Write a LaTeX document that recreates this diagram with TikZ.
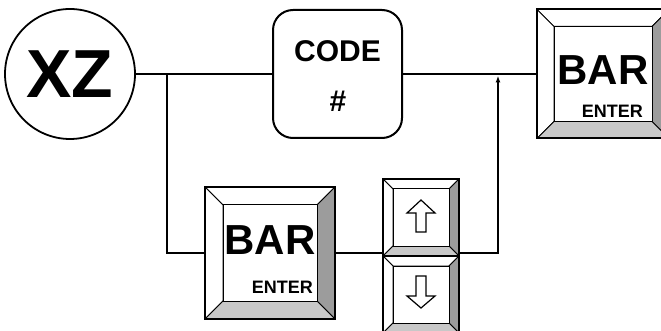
\documentclass[tikz,border=0pt]{standalone}
\usepackage{fontspec}
\setmainfont{Liberation Sans}
\usetikzlibrary{arrows.meta,calc}
\definecolor{keyside}{HTML}{9C9C9C}
\definecolor{keyfoot}{HTML}{C8C8C8}

% bevelled key face drawn over an empty key node
\newcommand{\keybevel}[2]{%
  \coordinate (#1-a) at ($(#1.north west)+(#2,#2)$);
  \coordinate (#1-b) at ($(#1.north east)+(-#2,#2)$);
  \coordinate (#1-c) at ($(#1.south east)+(-#2,-#2)$);
  \coordinate (#1-d) at ($(#1.south west)+(#2,-#2)$);
  \draw[bevel, fill=white] (#1.north west) -- (#1.north east) -- (#1-b) -- (#1-a) -- cycle;
  \draw[bevel, fill=white] (#1.north west) -- (#1-a) -- (#1-d) -- (#1.south west) -- cycle;
  \draw[bevel, fill=keyside] (#1.north east) -- (#1.south east) -- (#1-c) -- (#1-b) -- cycle;
  \draw[bevel, fill=keyfoot] (#1.south west) -- (#1-d) -- (#1-c) -- (#1.south east) -- cycle;
  \draw[bevel, fill=white] (#1-a) -- (#1-b) -- (#1-c) -- (#1-d) -- cycle;
  \draw[keyrim] (#1.north west) rectangle (#1.south east);
}
\newcommand{\upglyph}[1]{%
  \draw[glyph] ($(#1.center)+(0,-17.5)$) -- ++(14,13) -- ++(-9,0) -- ++(0,19) -- ++(-10,0) -- ++(0,-19) -- ++(-9,0) -- cycle;}
\newcommand{\downglyph}[1]{%
  \draw[glyph] ($(#1.center)+(0,13.5)$) -- ++(14,-12) -- ++(-9,0) -- ++(0,-20) -- ++(-10,0) -- ++(0,20) -- ++(-9,0) -- cycle;}

\begin{document}
\begin{tikzpicture}[x=1pt, y=-1pt,
  wire/.style={line width=2pt},
  arr/.style={wire, -{Latex[length=7pt,width=5pt]}, shorten >=1.5pt},
  bevel/.style={line width=1pt, line join=round},
  keyrim/.style={line width=2pt},
  glyph/.style={line width=1.2pt, fill=white, line join=miter},
  keynode/.style={inner sep=0pt, outer sep=0pt, fill=white},
  lbl/.style={font=\bfseries, inner sep=0pt}
]
  \useasboundingbox (0,0) rectangle (661,331);

  \node[draw, circle, line width=1.8pt, minimum size=130pt, inner sep=0pt] (xz) at (70,74) {};
  \node[lbl, font=\bfseries\fontsize{68}{68}\selectfont] (xzt) at (70,74) {XZ};
  \node[draw, rounded corners=20pt, line width=2pt, minimum width=129pt, minimum height=128pt, inner sep=0pt] (code) at (337.5,74) {};
  \node[lbl, font=\bfseries\fontsize{30}{30}\selectfont] (codet) at (337.5,51) {CODE};
  \node[lbl, font=\bfseries\fontsize{30}{30}\selectfont] (hash) at (338,101) {\#};

  \node[keynode, minimum width=132pt, minimum height=129pt] (bartop) at (603,74) {};
  \node[keynode, minimum width=130pt, minimum height=132pt] (barlow) at (270,253) {};
  \node[keynode, minimum width=76pt, minimum height=77pt] (up) at (421,217.5) {};
  \node[keynode, minimum width=76pt, minimum height=77pt] (down) at (421,294.5) {};

  \coordinate (split) at (167,74);
  \coordinate (merge) at (498,74);

  \draw[wire] (xz.east) -- (code.west);
  \draw[wire] (code.east) -- (bartop.west);
  \draw[wire] (split) |- (barlow.west);
  \draw[wire] (barlow.east) -- (barlow.east -| up.west);
  \draw[arr] (barlow.east -| up.east) -| (merge);

  \keybevel{bartop}{17}
  \keybevel{barlow}{18}
  \keybevel{up}{10}
  \keybevel{down}{10}
  \upglyph{up}
  \downglyph{down}

  \node[lbl, font=\bfseries\fontsize{42}{42}\selectfont] (bartopt) at ($(bartop.center)+(0,-4)$) {BAR};
  \node[lbl, font=\bfseries\fontsize{18}{18}\selectfont, anchor=base east] (bartope) at ($(bartop-c)+(-9,-4)$) {ENTER};
  \node[lbl, font=\bfseries\fontsize{42}{42}\selectfont] (barlowt) at ($(barlow.center)+(0,-13)$) {BAR};
  \node[lbl, font=\bfseries\fontsize{18}{18}\selectfont, anchor=base east] (barlowe) at ($(barlow-c)+(-4,-8)$) {ENTER};
\end{tikzpicture}
\end{document}
